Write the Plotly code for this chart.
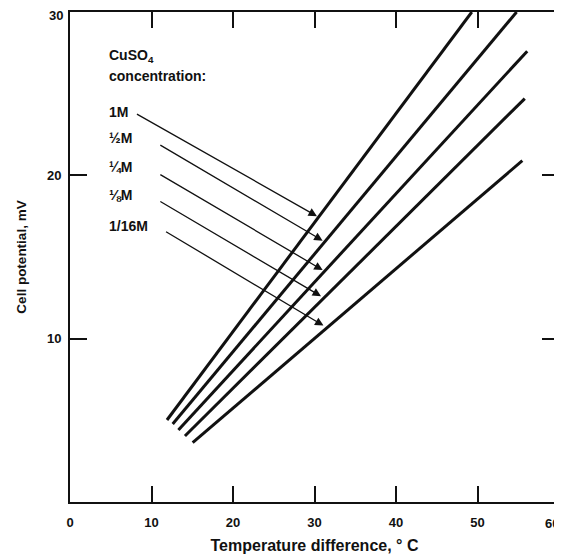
import plotly.graph_objects as go

# Series: CuSO4 concentration lines (start and end points)
series_names = ["1M", "½M", "¼M", "⅛M", "1/16M"]
line_x = [[11.9, 49.3], [12.6, 54.8], [13.3, 56.1], [14.1, 55.8], [15.05, 55.5]]
line_y = [[5.02, 30.0], [4.78, 30.0], [4.41, 27.6], [4.04, 24.7], [3.63, 20.9]]

# Label positions (data coordinates)
label_x = [4.6, 4.6, 4.6, 4.6, 4.6]
label_y = [23.9, 22.3, 20.5, 18.8, 16.9]

# Arrow tails and heads
arrow_tail_x = [8.03, 10.9, 10.9, 10.9, 11.6]
arrow_tail_y = [23.8, 21.9, 20.1, 18.45, 16.6]
arrow_head_x = [30.3, 31.0, 31.0, 30.8, 31.1]
arrow_head_y = [17.5, 16.0, 14.2, 12.6, 10.8]

heading_lines = ["CuSO<sub>4</sub>", "concentration:"]
heading_y = [27.3, 26.1]

x_ticks = [0, 10, 20, 30, 40, 50, 60]
x_tick_labels = ["0", "10", "20", "30", "40", "50", ""]  # last label drawn at the edge below
x_last_label = "60"
y_ticks = [10, 20, 30]
y_tick_labels = ["10", "20", ""]  # top label drawn just below the frame corner
y_top_label = "30"

FONT = "Liberation Sans, Arial, sans-serif"
INK = "#111111"

fig = go.Figure()
for name, xs, ys in zip(series_names, line_x, line_y):
    fig.add_trace(go.Scatter(x=xs, y=ys, mode="lines", name=name,
                             line=dict(color=INK, width=3), showlegend=False,
                             hoverinfo="skip"))

annotations = []
for txt, yy in zip(heading_lines, heading_y):
    annotations.append(dict(x=4.6, y=yy, xref="x", yref="y", text=txt,
                            showarrow=False, xanchor="left", yanchor="middle",
                            font=dict(family=FONT, size=14, color=INK, weight="bold")))
for name, lx, ly in zip(series_names, label_x, label_y):
    annotations.append(dict(x=lx, y=ly, xref="x", yref="y", text=name,
                            showarrow=False, xanchor="left", yanchor="middle",
                            font=dict(family=FONT, size=14, color=INK, weight="bold")))
for tx, ty, hx, hy in zip(arrow_tail_x, arrow_tail_y, arrow_head_x, arrow_head_y):
    annotations.append(dict(x=hx, y=hy, ax=tx, ay=ty, xref="x", yref="y",
                            axref="x", ayref="y", text="", showarrow=True,
                            arrowhead=2, arrowsize=1.3, arrowwidth=1.3,
                            arrowcolor=INK, standoff=0, startstandoff=0))
# Last x tick label, pushed inside the page edge as in the original
annotations.append(dict(x=x_ticks[-1], y=0, xref="x", yref="y", text=x_last_label,
                        showarrow=False, xanchor="right", yanchor="top",
                        xshift=2, yshift=-12,
                        font=dict(family=FONT, size=13, color=INK, weight="bold")))
# Top y tick label, sitting just under the top frame line
annotations.append(dict(x=0, y=y_ticks[-1], xref="x", yref="y", text=y_top_label,
                        showarrow=False, xanchor="right", yanchor="middle",
                        xshift=-5, yshift=-3,
                        font=dict(family=FONT, size=13, color=INK, weight="bold")))

# The page body adds an 8px offset, so the figure is sized to fit the window.
fig.update_layout(
    width=554, height=546,
    margin=dict(l=62, r=3, t=4, b=52, autoexpand=False),
    paper_bgcolor="white", plot_bgcolor="white",
    annotations=annotations,
    font=dict(family=FONT, color=INK),
    xaxis=dict(range=[0, 60], tickvals=x_ticks, ticktext=x_tick_labels,
               ticks="inside", ticklen=16,
               tickwidth=1.5, tickcolor=INK, showline=True, linewidth=2,
               linecolor=INK, mirror="ticks", showgrid=False, zeroline=False,
               ticklabelstandoff=7, automargin=False,
               tickfont=dict(family=FONT, size=13, color=INK, weight="bold"),
               title=dict(text="Temperature difference, ° C", standoff=12,
                          font=dict(family=FONT, size=16, color=INK, weight="bold"))),
    yaxis=dict(range=[0, 30], tickvals=y_ticks, ticktext=y_tick_labels,
               ticks="inside", ticklen=17,
               tickwidth=1.5, tickcolor=INK, showline=True, linewidth=2,
               linecolor=INK, mirror="ticks", showgrid=False, zeroline=False,
               ticklabelstandoff=4, automargin=False,
               tickfont=dict(family=FONT, size=13, color=INK, weight="bold"),
               title=dict(text="Cell potential, mV", standoff=17,
                          font=dict(family=FONT, size=13.5, color=INK, weight="bold"))),
)

fig.write_html("out.html")
